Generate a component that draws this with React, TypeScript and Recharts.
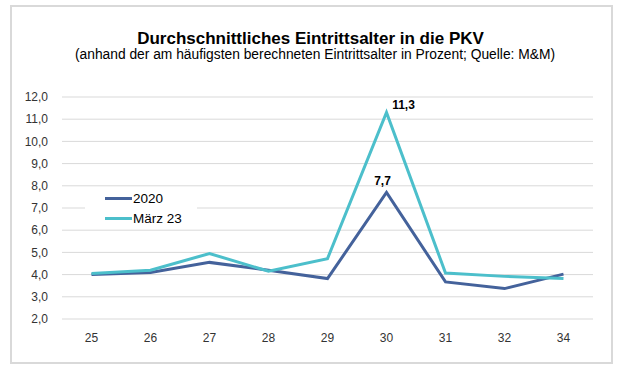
import React from 'react';
import { LineChart, Line, XAxis, YAxis, CartesianGrid } from 'recharts';

const ages = ['25', '26', '27', '28', '29', '30', '31', '32', '34'];
const series2020 = [4.0, 4.1, 4.55, 4.2, 3.82, 7.7, 3.67, 3.37, 4.02];
const seriesMaerz23 = [4.05, 4.2, 4.95, 4.15, 4.72, 11.3, 4.07, 3.92, 3.82];
const yTicks = [2, 3, 4, 5, 6, 7, 8, 9, 10, 11, 12];
const labelAge = '30';
const legendItems = [
  { name: '2020', color: '#44629b' },
  { name: 'März 23', color: '#4cbfcb' },
];

const data = ages.map((a, i) => ({ age: a, y2020: series2020[i], m23: seriesMaerz23[i] }));

const FONT = '"Liberation Sans", Arial, sans-serif';
const fmt = (v: number) => v.toFixed(1).replace('.', ',');

const makeLabel = (dx: number, dy: number, anchor: string) => (props: any) => {
  const { x, y, index, value } = props;
  if (ages[index] !== labelAge) return null;
  return (
    <text x={x + dx} y={y + dy} textAnchor={anchor} fontFamily={FONT} fontSize={12} fontWeight="bold" fill="#000">
      {fmt(value)}
    </text>
  );
};

export default function App() {
  return (
    <div style={{ position: 'absolute', left: 0, top: 0, width: 621, height: 371, background: '#fff', fontFamily: FONT }}>
      <div style={{ position: 'absolute', left: 10, top: 5, width: 599, height: 355, border: '2px solid #d9d9d9', boxSizing: 'content-box' }} />
      <div style={{ position: 'absolute', left: 0, width: 621, top: 29, textAlign: 'center', fontSize: 17, fontWeight: 'bold', color: '#000', whiteSpace: 'nowrap' }}>
        Durchschnittliches Eintrittsalter in die PKV
      </div>
      <div style={{ position: 'absolute', left: 0, width: 630, top: 47, textAlign: 'center', fontSize: 13.8, color: '#000', whiteSpace: 'nowrap' }}>
        (anhand der am häufigsten berechneten Eintrittsalter in Prozent; Quelle: M&amp;M)
      </div>
      <div style={{ position: 'absolute', left: 0, top: 0 }}>
        <LineChart width={621} height={371} data={data} margin={{ top: 97, right: 28, bottom: 22, left: 12 }}>
          <CartesianGrid vertical={false} stroke="#d9d9d9" strokeWidth={1} />
          <XAxis
            dataKey="age"
            axisLine={false}
            tickLine={false}
            padding={{ left: 29.5, right: 29.5 }}
            height={30}
            tick={{ fontSize: 12, fill: '#333', fontFamily: FONT }}
            tickMargin={8}
            interval={0}
          />
          <YAxis
            domain={[2, 12]}
            ticks={yTicks}
            axisLine={false}
            tickLine={false}
            width={50}
            tickFormatter={fmt}
            tick={{ fontSize: 12, fill: '#333', fontFamily: FONT }}
            tickMargin={8}
            interval={0}
          />
          <Line
            dataKey="y2020"
            name="2020"
            stroke="#44629b"
            strokeWidth={3}
            dot={false}
            isAnimationActive={false}
            label={makeLabel(-4, -7, 'middle')}
          />
          <Line
            dataKey="m23"
            name="März 23"
            stroke="#4cbfcb"
            strokeWidth={3}
            dot={false}
            isAnimationActive={false}
            label={makeLabel(17, -4, 'middle')}
          />
        </LineChart>
      </div>
      <div style={{ position: 'absolute', left: 85, top: 188, width: 112, height: 40, background: '#fff', paddingLeft: 20, boxSizing: 'border-box' }}>
        {legendItems.map((it) => (
          <div key={it.name} style={{ display: 'flex', alignItems: 'center', height: 20, color: '#000', fontSize: 13.5, fontFamily: FONT }}>
            <span style={{ display: 'inline-block', width: 27, height: 3, background: it.color, marginRight: 1 }} />
            {it.name}
          </div>
        ))}
      </div>
    </div>
  );
}
